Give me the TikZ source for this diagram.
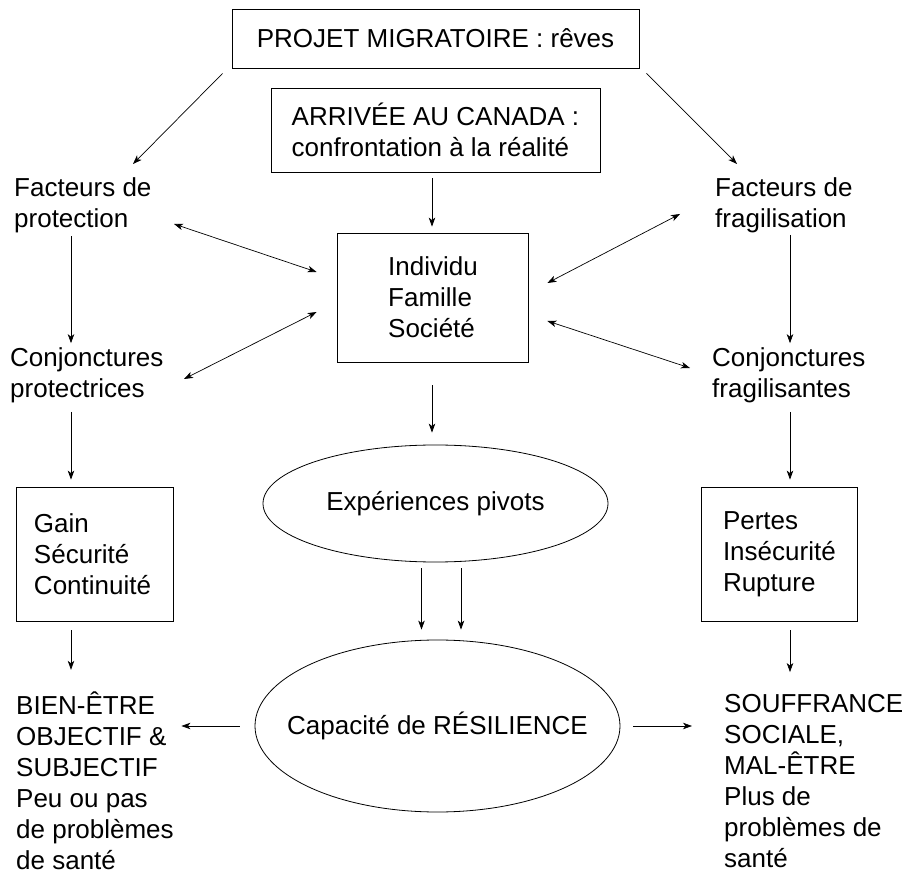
\documentclass[tikz,border=0pt]{standalone}
\usepackage{fontspec}
\setmainfont{Liberation Sans}
\usetikzlibrary{arrows.meta,shapes.geometric}
\begin{document}
\begin{tikzpicture}[x=1pt,y=-1pt,
  every node/.style={font=\fontsize{26}{31}\selectfont},
  lbl/.style={inner sep=0pt, align=left, anchor=west},
  box/.style={draw, line width=0.8pt, inner sep=0pt},
  oval/.style={draw, ellipse, line width=0.8pt, inner sep=0pt},
  arr/.style={line width=0.7pt, -{Stealth[length=9pt,width=6.5pt,inset=2.5pt]}},
  darr/.style={line width=0.7pt, {Stealth[length=9pt,width=6.5pt,inset=2.5pt]}-{Stealth[length=9pt,width=6.5pt,inset=2.5pt]}}]
\useasboundingbox (0,0) rectangle (906,874);
\fill[white] (0,0) rectangle (906,874);

\coordinate (colL) at (71,0);
\coordinate (colR) at (790,0);
\coordinate (colC) at (432,0);
\coordinate (colA) at (421.5,0);
\coordinate (colB) at (461,0);

\node[box, minimum width=407pt, minimum height=59pt] (top) at (435.5,38.5) {PROJET MIGRATOIRE : rêves};
\node[box, align=left, minimum width=329pt, minimum height=84pt] (arrival) at (435.5,130) {ARRIVÉE AU CANADA :\\confrontation à la réalité};

\node[lbl] (fprot) at (14,205) {Facteurs de\\protection};
\node[lbl] (ffrag) at (715,205) {Facteurs de\\fragilisation};

\node[box, align=left, minimum width=191pt, minimum height=129pt] (central) at (433,297.5) {Individu\\Famille\\Société};

\node[lbl] (cprot) at (10,375) {Conjonctures\\protectrices};
\node[lbl] (cfrag) at (712,375) {Conjonctures\\fragilisantes};

\node[box, align=left, text width=121pt, inner xsep=18pt, minimum height=134pt] (gain) at (94.5,554) {Gain\\Sécurité\\Continuité};
\node[box, align=left, text width=112pt, inner xsep=22pt, minimum height=134pt] (pertes) at (779,554) {Pertes\\Insécurité\\Rupture};

\node[oval, minimum width=345pt, minimum height=117pt] (exp) at (435.5,503.5) {};
\node (expt) at (exp.center) {Expériences pivots};
\node[oval, minimum width=365pt, minimum height=172pt] (cap) at (437.5,726) {};
\node (capt) at (cap.center) {Capacité de RÉSILIENCE};

\node[lbl] (bien) at (16,781) {BIEN-ÊTRE\\OBJECTIF \&\\SUBJECTIF\\Peu ou pas\\de problèmes\\de santé};
\node[lbl] (souf) at (724,781) {SOUFFRANCE\\SOCIALE,\\MAL-ÊTRE\\Plus de\\problèmes de\\santé};

% arrows from the top
\draw[arr] ([shift={(-9,5)}]top.south west) -- ([shift={(119,-41)}]fprot.west);
\draw[arr] ([shift={(7,5)}]top.south east) -- ([shift={(22,-41)}]ffrag.west);
\draw[arr, shorten <=6pt, shorten >=6pt] (arrival.south -| colC) -- (central.north -| colC);

% double arrows
\draw[darr] ([shift={(160,19)}]fprot.west) -- ([shift={(-20.5,-25.5)}]central.west);
\draw[darr] ([shift={(-20.5,14.5)}]central.west) -- ([shift={(174,4)}]cprot.west);
\draw[darr] ([shift={(-35,9)}]ffrag.west) -- ([shift={(18.5,-14.5)}]central.east);
\draw[darr] ([shift={(18.5,23.5)}]central.east) -- ([shift={(-22,-7)}]cfrag.west);

% vertical arrows
\draw[arr, shorten <=3.5pt, shorten >=4pt] (fprot.south -| colL) -- (cprot.north -| colL);
\draw[arr, shorten <=2pt, shorten >=4pt] (ffrag.south -| colR) -- (cfrag.north -| colR);
\draw[arr, shorten <=9pt, shorten >=7pt] (cprot.south -| colL) -- (gain.north -| colL);
\draw[arr, shorten <=9pt, shorten >=7pt] (cfrag.south -| colR) -- (pertes.north -| colR);
\draw[arr, shorten <=23pt, shorten >=12pt] (central.south -| colC) -- (exp.north -| colC);
\draw[arr, shorten <=6pt, shorten >=10pt] (exp.south -| colA) -- (cap.north -| colA);
\draw[arr, shorten <=6pt, shorten >=10pt] (exp.south -| colB) -- (cap.north -| colB);
\draw[arr, shorten <=9pt, shorten >=22pt] (gain.south -| colL) -- (bien.north -| colL);
\draw[arr, shorten <=9pt, shorten >=22pt] (pertes.south -| colR) -- (souf.north -| colR);

% horizontal arrows
\draw[arr, shorten <=15pt, shorten >=7.5pt] (cap.west) -- (cap.west -| bien.east);
\draw[arr, shorten <=13pt, shorten >=32pt] (cap.east) -- (cap.east -| souf.west);
\end{tikzpicture}
\end{document}
